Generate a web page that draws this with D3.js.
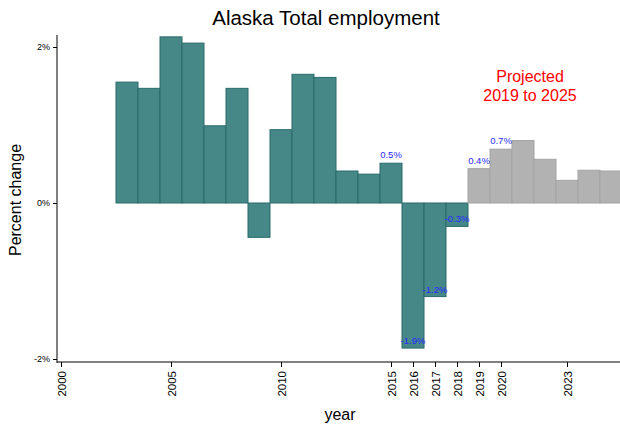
<!DOCTYPE html>
<html>
<head>
<meta charset="utf-8">
<script src="https://cdn.jsdelivr.net/npm/d3@7"></script>
<style>
    body { margin: 0; background: #fff; }
    svg { font-family: "Liberation Sans", Arial, sans-serif; }
</style>
</head>
<body>
<svg id="graph" width="620" height="425"></svg>
<script>
// data
const years = [2003, 2004, 2005, 2006, 2007, 2008, 2009, 2010, 2011, 2012, 2013, 2014,
    2015, 2016, 2017, 2018, 2019, 2020, 2021, 2022, 2023, 2024, 2025];
const pct = [1.55, 1.47, 2.13, 2.05, 0.99, 1.47, -0.44, 0.94, 1.65, 1.61, 0.41, 0.37,
    0.51, -1.86, -1.2, -0.3, 0.44, 0.69, 0.8, 0.56, 0.29, 0.42, 0.41];
const projectedFrom = 2019;
const labelledYears = [2015, 2016, 2017, 2018, 2019, 2020];
const xTicks = [2000, 2005, 2010, 2015, 2016, 2017, 2018, 2019, 2020, 2023];
const yTicks = [-2, 0, 2];

const svg = d3.select("#graph");

const x = d3.scaleLinear().domain([2000, 2025.5]).range([61, 622]);
const y = d3.scaleLinear().domain([-2, 2]).range([359, 47]);

const data = years.map((yr, i) => ({ year: yr, value: pct[i] }));

// bars
svg.append("g")
    .selectAll("rect")
    .data(data)
    .join("rect")
    .attr("x", (d) => x(d.year - 0.5))
    .attr("width", (d) => x(d.year + 0.5) - x(d.year - 0.5))
    .attr("y", (d) => y(Math.max(0, d.value)))
    .attr("height", (d) => Math.abs(y(d.value) - y(0)))
    .attr("fill", (d) => (d.year >= projectedFrom ? "#b2b2b2" : "#468787"))
    .attr("stroke", (d) => (d.year >= projectedFrom ? "#a3a3a3" : "#2a6b6b"))
    .attr("stroke-width", 1);

// value labels
svg.append("g")
    .selectAll("text")
    .data(data.filter((d) => labelledYears.includes(d.year)))
    .join("text")
    .attr("x", (d) => x(d.year))
    .attr("y", (d) => (d.value >= 0 ? y(d.value) - 5 : y(d.value) - 4))
    .attr("text-anchor", "middle")
    .attr("font-size", 9.5)
    .attr("fill", "#2b2bff")
    .text((d) => d.value.toFixed(1) + "%");

// y axis
const yAxis = d3.axisLeft(y)
    .tickValues(yTicks)
    .tickSize(4)
    .tickFormat((d) => d + "%");
const gy = svg.append("g").attr("transform", "translate(57,0)").call(yAxis);
gy.select(".domain").remove();
gy.append("line")
    .attr("x1", 0).attr("x2", 0)
    .attr("y1", 35).attr("y2", 363)
    .attr("stroke", "#000");
gy.selectAll(".tick text")
    .attr("font-size", 9)
    .attr("font-family", "'Liberation Sans', Arial, sans-serif")
    .attr("x", -7);

// x axis
const xAxis = d3.axisBottom(x)
    .tickValues(xTicks)
    .tickSize(5)
    .tickFormat(d3.format("d"));
const gx = svg.append("g").attr("transform", "translate(0,362)").call(xAxis);
gx.select(".domain").remove();
gx.append("line")
    .attr("x1", 57).attr("x2", 620)
    .attr("y1", 0).attr("y2", 0)
    .attr("stroke", "#000");
gx.selectAll(".tick text")
    .attr("font-size", 11.5)
    .attr("font-family", "'Liberation Sans', Arial, sans-serif")
    .attr("transform", "rotate(-90)")
    .attr("text-anchor", "end")
    .attr("dy", "0.35em")
    .attr("x", -9)
    .attr("y", 0);

// titles
svg.append("text")
    .attr("x", 326).attr("y", 25)
    .attr("text-anchor", "middle")
    .attr("font-size", 20.5)
    .text("Alaska Total employment");

svg.append("text")
    .attr("transform", "translate(21,200) rotate(-90)")
    .attr("text-anchor", "middle")
    .attr("font-size", 16)
    .text("Percent change");

svg.append("text")
    .attr("x", 340).attr("y", 420)
    .attr("text-anchor", "middle")
    .attr("font-size", 16)
    .text("year");

const proj = svg.append("text")
    .attr("text-anchor", "middle")
    .attr("font-size", 16)
    .attr("fill", "#ff0000");
proj.append("tspan").attr("x", 530).attr("y", 82).text("Projected");
proj.append("tspan").attr("x", 530).attr("y", 101).text("2019 to 2025");
</script>
</body>
</html>
